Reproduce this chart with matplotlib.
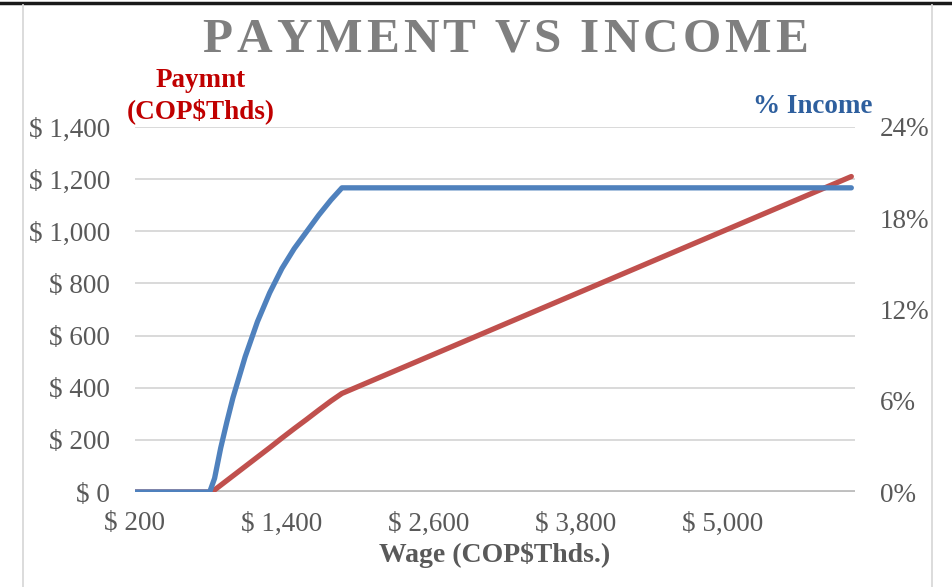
import matplotlib
matplotlib.use("Agg")
import matplotlib.pyplot as plt
from matplotlib.lines import Line2D
from matplotlib.ticker import FuncFormatter

# Data
wage = [200, 400, 600, 810, 850, 900, 950, 1000, 1100, 1200, 1300, 1400, 1500,
        1600, 1700, 1800, 1890, 2500, 3000, 3500, 4000, 4500, 5000, 5500, 6050]
pct_income = [0, 0, 0, 0, 0.9, 2.9, 4.6, 6.2, 8.9, 11.2, 13.1, 14.7, 16.0,
              17.1, 18.2, 19.2, 20.0, 20.0, 20.0, 20.0, 20.0, 20.0, 20.0, 20.0, 20.0]
payment = [0, 0, 0, 0, 8, 26, 44, 62, 98, 134, 170, 207, 243,
           278, 314, 349, 378, 500, 600, 700, 800, 900, 1000, 1100, 1210]
x_ticks = [200, 1400, 2600, 3800, 5000]
y_left_ticks = [0, 200, 400, 600, 800, 1000, 1200, 1400]
y_right_ticks = [0, 6, 12, 18, 24]
title = "PAYMENT VS INCOME"

W, H = 953, 587
plt.rcParams['font.family'] = ['Liberation Serif', 'DejaVu Serif']
fig = plt.figure(figsize=(W / 100, H / 100), dpi=100)

ax = fig.add_axes([135 / W, (H - 492) / H, (855 - 135) / W, (492 - 127) / H])
ax2 = ax.twinx()

tick_color = '#595959'
grid_color = '#d9d9d9'

ax.plot(wage, payment, color='#c0504d', lw=3.8, solid_capstyle='round', zorder=3)
ax2.plot(wage, pct_income, color='#4f81bd', lw=3.8, solid_capstyle='round', zorder=3)

ax.set_xlim(200, 6080)
ax.set_ylim(0, 1400)
ax2.set_ylim(0, 24)
ax.set_xticks(x_ticks)
ax.set_yticks(y_left_ticks)
ax2.set_yticks(y_right_ticks)
ax.xaxis.set_major_formatter(FuncFormatter(lambda v, p: f"$ {v:,.0f}"))
ax.yaxis.set_major_formatter(FuncFormatter(lambda v, p: f"$ {v:,.0f}"))
ax2.yaxis.set_major_formatter(FuncFormatter(lambda v, p: f"{v:.0f}%"))

for a in (ax, ax2):
    for s in a.spines.values():
        s.set_visible(False)
    a.tick_params(length=0, labelsize=19.5, labelcolor=tick_color)
ax.tick_params(axis='y', pad=18)
ax.tick_params(axis='x', pad=14)
ax2.tick_params(axis='y', pad=18)

ax.grid(axis='y', color=grid_color, lw=1.4, zorder=0)
ax.set_axisbelow(True)
ax.axhline(0, color='#bfbfbf', lw=2.8, zorder=2)
ax2.set_zorder(ax.get_zorder() + 1)
ax2.patch.set_visible(False)

ax.set_xlabel("Wage (COP$Thds.)", fontsize=20, fontweight='bold', color='#595959', labelpad=4)

# Title with letter spacing
renderer = fig.canvas.get_renderer()
tprops = dict(fontsize=35.5, fontweight='bold', color='#7f7f7f', va='baseline', ha='left')
widths = []
for ch in title:
    t = fig.text(0, 0, ch if ch != ' ' else 'I', **tprops)
    bb = t.get_window_extent(renderer)
    widths.append(bb.width * (0.55 if ch == ' ' else 1.0))
    t.remove()
x0, x1 = 202, 808
gap = (x1 - x0 - sum(widths)) / (len(title) - 1)
x = x0
for ch, w in zip(title, widths):
    if ch != ' ':
        fig.text(x / W, 1 - 52 / H, ch, **tprops)
    x += w + gap

fig.text(201 / W, 1 - 87 / H, "Paymnt", ha='center', va='baseline',
         fontsize=19.5, fontweight='bold', color='#c00000')
fig.text(201 / W, 1 - 118 / H, "(COP$Thds)", ha='center', va='baseline',
         fontsize=19.5, fontweight='bold', color='#c00000')
fig.text(873 / W, 1 - 113 / H, "% Income", ha='right', va='baseline',
         fontsize=19.5, fontweight='bold', color='#2e5f9e')

# frame lines
fig.add_artist(Line2D([0, 1], [1 - 3 / H, 1 - 3 / H], color='#1a1a1a', lw=2.5, transform=fig.transFigure))
fig.add_artist(Line2D([23 / W, 23 / W], [0, 1 - 5 / H], color='#d9d9d9', lw=1.3, transform=fig.transFigure))
fig.add_artist(Line2D([932 / W, 932 / W], [0, 1 - 5 / H], color='#d9d9d9', lw=1.3, transform=fig.transFigure))

fig.savefig("out.png", dpi=100, facecolor='white')
